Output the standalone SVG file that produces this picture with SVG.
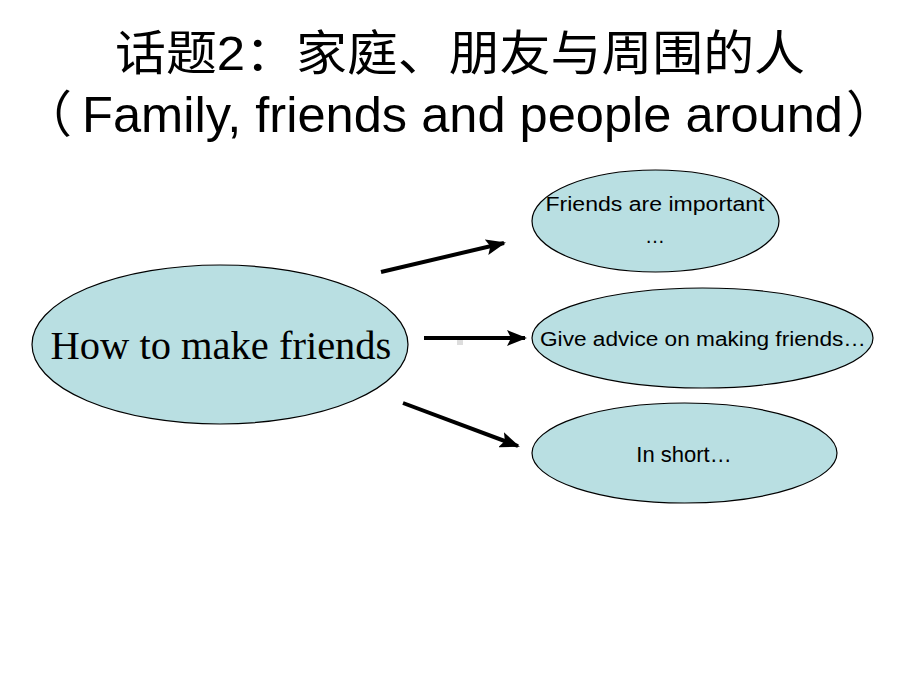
<svg xmlns="http://www.w3.org/2000/svg" width="920" height="690" viewBox="0 0 920 690">
<defs>
<style>
.node ellipse{fill:#B9DFE2;stroke:#000;stroke-width:1.2}
.sans{font-family:"Liberation Sans","Noto Sans CJK SC",sans-serif;fill:#000}
.serif{font-family:"Liberation Serif",serif;fill:#000}
.cjk{font-family:"Liberation Sans","Noto Sans CJK SC",sans-serif;fill:#000}
.conn line{stroke:#000;stroke-width:4;marker-end:url(#ah)}
</style>
<marker id="ah" markerUnits="userSpaceOnUse" markerWidth="20" markerHeight="16" viewBox="0 0 20 16" refX="18" refY="8" orient="auto">
<path d="M0,0 L20,8 L0,16 L4,8 Z" fill="#000"/>
</marker>
</defs>
<rect width="920" height="690" fill="#fff"/>
<g id="title">
<text class="cjk" x="115" y="70" font-size="48" textLength="690" lengthAdjust="spacingAndGlyphs">话题2：家庭、朋友与周围的人</text>
<text class="cjk" x="22" y="132" font-size="50">（</text>
<text class="sans" x="82" y="132" font-size="50" textLength="761" lengthAdjust="spacingAndGlyphs">Family, friends and people around</text>
<text class="cjk" x="846" y="132" font-size="50">）</text>
</g>
<g id="n-main" class="node">
<ellipse cx="220" cy="344.5" rx="188" ry="79.5"/>
<text class="serif" x="221" y="359" font-size="40.5" text-anchor="middle">How to make friends</text>
</g>
<g id="n-important" class="node">
<ellipse cx="655.5" cy="221" rx="123.5" ry="51"/>
<text class="sans" x="655" y="211" font-size="20" text-anchor="middle" textLength="219" lengthAdjust="spacingAndGlyphs">Friends are important</text>
<text class="sans" x="655" y="243" font-size="20" text-anchor="middle">…</text>
</g>
<g id="n-advice" class="node">
<ellipse cx="702.5" cy="338" rx="170.5" ry="50"/>
<text class="sans" x="703" y="346" font-size="20" text-anchor="middle" textLength="326" lengthAdjust="spacingAndGlyphs">Give advice on making friends…</text>
</g>
<g id="n-short" class="node">
<ellipse cx="684.5" cy="453" rx="152.5" ry="50"/>
<text class="sans" x="684" y="462" font-size="22" text-anchor="middle">In short…</text>
</g>
<g id="connectors" class="conn">
<line x1="381" y1="272" x2="504" y2="243"/>
<line x1="424" y1="338" x2="525" y2="338"/>
<line x1="403" y1="403" x2="518" y2="446"/>
</g>
<rect x="457" y="340" width="6" height="5" fill="#ddd"/>
</svg>
